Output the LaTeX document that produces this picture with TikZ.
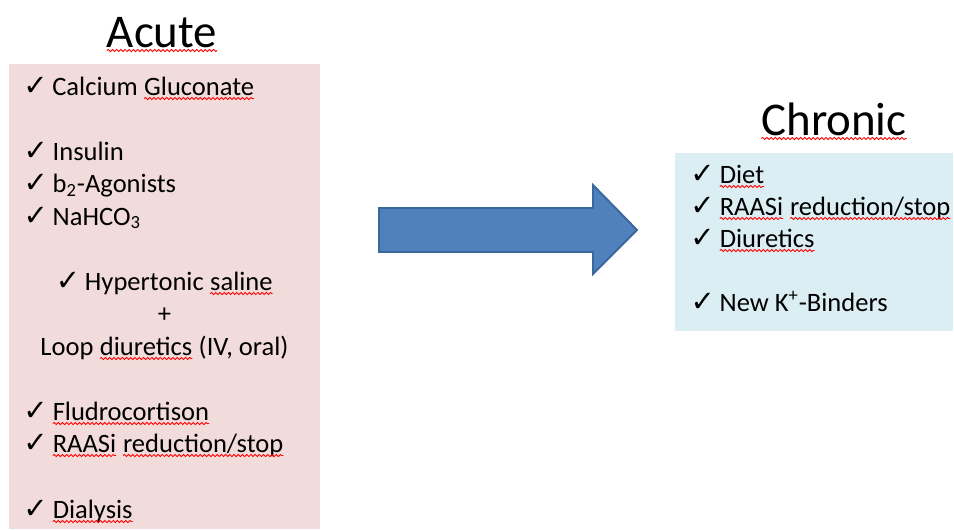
\documentclass[tikz,border=0pt]{standalone}
\usepackage{fontspec}
\setmainfont{Carlito}
\newfontfamily\checkfont{DejaVu Sans}
\usetikzlibrary{decorations.pathmorphing}

\definecolor{acutepink}{HTML}{F2DCDB}
\definecolor{chronicblue}{HTML}{DBEEF4}
\definecolor{arrowblue}{HTML}{4F81BD}
\definecolor{arrowedge}{HTML}{3A679C}

\newcommand{\chk}{\makebox[0.58cm][l]{\checkfont\bfseries\fontsize{16.5}{18}\selectfont ✓}}
\newcommand{\spell}[1]{\tikz[baseline=(w.base)]{\node[inner sep=0pt,outer sep=0pt,anchor=base] (w) {#1}; \draw[red,line width=0.5pt,decorate,decoration={snake,amplitude=0.6pt,segment length=2.4pt}] ([yshift=-2pt]w.base west) -- ([yshift=-2pt]w.base east);}}

\tikzset{
  title/.style={anchor=base,font=\fontsize{26.7}{30}\selectfont},
  item/.style={anchor=base west,inner sep=0pt,font=\fontsize{15.1}{18}\selectfont},
  centreitem/.style={item,anchor=base}
}

\begin{document}
\begin{tikzpicture}[thick]

	\useasboundingbox (0,0) rectangle (19.08,10.58);

	%boxes
	\fill[acutepink] (0.18,0) rectangle (6.40,9.30); %acute box
	\fill[chronicblue] (13.50,3.96) rectangle (19.06,7.52); %chronic box

	%arrow
	\filldraw[fill=arrowblue,draw=arrowedge,line width=1.1pt] (7.58,6.42) -- (11.86,6.42) -- (11.86,6.88) -- (12.74,5.98) -- (11.86,5.10) -- (11.86,5.54) -- (7.58,5.54) -- cycle; %big arrow

	%titles
	\node[title] (acute) at (3.24,9.64) {\spell{Acute}}; %acute title
	\node[title] (chronic) at (16.68,7.88) {\spell{Chronic}}; %chronic title

	%acute list
	\node[item] (calcium) at (0.46,8.68) {\chk Calcium \spell{Gluconate}};
	\node[item] (insulin) at (0.46,7.38) {\chk Insulin};
	\node[item] (agonists) at (0.46,6.73) {\chk b\textsubscript{2}-Agonists};
	\node[item] (bicarb) at (0.46,6.08) {\chk NaHCO\textsubscript{3}};
	\node[centreitem] (saline) at (3.29,4.78) {\chk Hypertonic \spell{saline}};
	\node[centreitem] (plus) at (3.29,4.14) {+};
	\node[centreitem] (loop) at (3.29,3.48) {Loop \spell{diuretics} (IV, oral)};
	\node[item] (fludro) at (0.46,2.18) {\chk \spell{Fludrocortison}};
	\node[item] (raasacute) at (0.46,1.54) {\chk \spell{RAASi} \spell{reduction/stop}};
	\node[item] (dialysis) at (0.46,0.22) {\chk \spell{Dialysis}};

	%chronic list
	\node[item] (diet) at (13.80,6.92) {\chk \spell{Diet}};
	\node[item] (raaschronic) at (13.80,6.28) {\chk \spell{RAASi} \spell{reduction/stop}};
	\node[item] (diuretics) at (13.80,5.64) {\chk \spell{Diuretics}};
	\node[item] (binders) at (13.80,4.36) {\chk New K\textsuperscript{+}-Binders};

\end{tikzpicture}
\end{document}
